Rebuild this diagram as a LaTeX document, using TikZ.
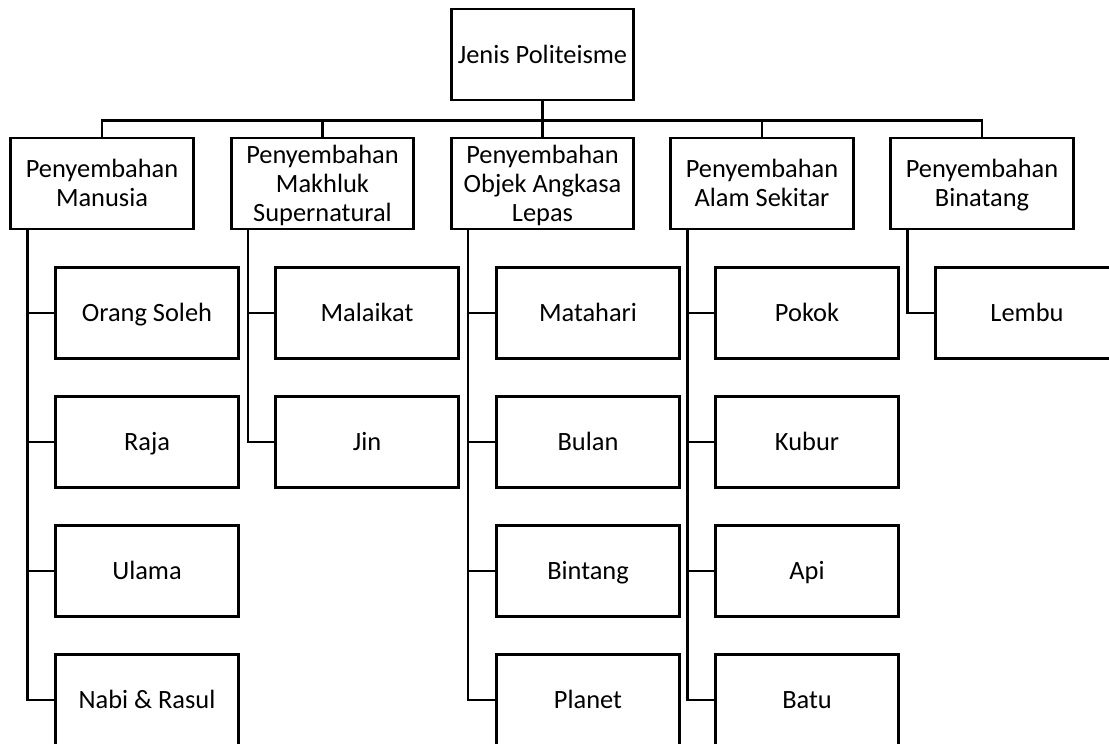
\documentclass[tikz,border=0pt]{standalone}
\usepackage{fontspec}
\setmainfont{Carlito}
\newcommand\ls{\rule[-0.2em]{0pt}{1.044em}}
\begin{document}
\begin{tikzpicture}[x=1pt,y=-1pt,
  box/.style={draw=black,line width=2.6pt,minimum width=182.5pt,minimum height=91pt,inner sep=0pt,align=center,font=\fontsize{26.4}{29}\selectfont},
  conn/.style={draw=black,line width=2.6pt}]
\useasboundingbox (0,0) rectangle (1109,744);
\node[box] (top) at (542.5,54.5) {\ls Jenis Politeisme};
\node[box] (p1) at (102,183.5) {\ls Penyembahan\\\ls Manusia};
\node[box] (p2) at (322.5,183.5) {\ls Penyembahan\\\ls Makhluk\\\ls Supernatural};
\node[box] (p3) at (542.5,183.5) {\ls Penyembahan\\\ls Objek Angkasa\\\ls Lepas};
\node[box] (p4) at (762,183.5) {\ls Penyembahan\\\ls Alam Sekitar};
\node[box] (p5) at (982,183.5) {\ls Penyembahan\\\ls Binatang};
% children
\node[box] (a1) at (147,313) {\ls Orang Soleh};
\node[box] (a2) at (147,442) {\ls Raja};
\node[box] (a3) at (147,571) {\ls Ulama};
\node[box] (a4) at (147,700) {\ls Nabi \& Rasul};
\node[box] (b1) at (367,313) {\ls Malaikat};
\node[box] (b2) at (367,442) {\ls Jin};
\node[box] (c1) at (588,313) {\ls Matahari};
\node[box] (c2) at (588,442) {\ls Bulan};
\node[box] (c3) at (588,571) {\ls Bintang};
\node[box] (c4) at (588,700) {\ls Planet};
\node[box] (d1) at (807,313) {\ls Pokok};
\node[box] (d2) at (807,442) {\ls Kubur};
\node[box] (d3) at (807,571) {\ls Api};
\node[box] (d4) at (807,700) {\ls Batu};
\node[box] (e1) at (1027,313) {\ls Lembu};
% bus
\foreach \p in {p1,p2,p3,p4,p5}{
  \draw[conn] (top.south) -- ++(0,19) -| (\p.north);
}
% children connectors
\foreach \c in {a1,a2,a3,a4}{\draw[conn] ([xshift=18pt]p1.south west) |- (\c.west);}
\foreach \c in {b1,b2}{\draw[conn] ([xshift=18pt]p2.south west) |- (\c.west);}
\foreach \c in {c1,c2,c3,c4}{\draw[conn] ([xshift=18pt]p3.south west) |- (\c.west);}
\foreach \c in {d1,d2,d3,d4}{\draw[conn] ([xshift=18pt]p4.south west) |- (\c.west);}
\foreach \c in {e1}{\draw[conn] ([xshift=18pt]p5.south west) |- (\c.west);}
\end{tikzpicture}
\end{document}
